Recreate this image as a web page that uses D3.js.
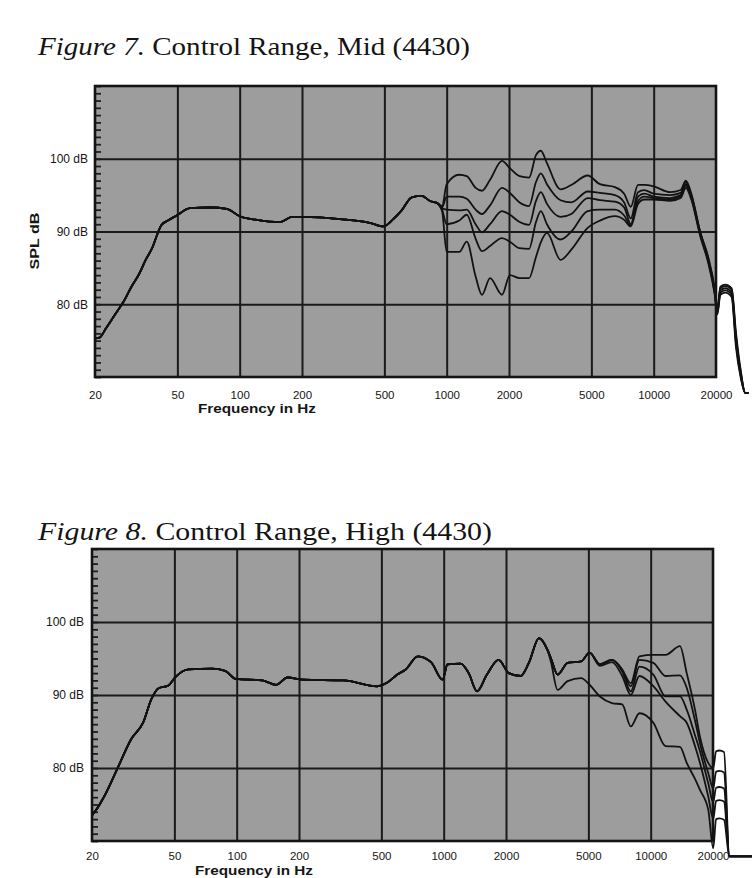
<!DOCTYPE html>
<html>
<head>
  <meta charset="UTF-8">
  <style>
    body {
      margin: 0;
      background: #ffffff;
    }
    svg {
      display: block;
    }
    .title {
      font-family: "Liberation Serif", "Times New Roman", serif;
      font-size: 25px;
      fill: #141414;
    }
    .lbl {
      font-family: "Liberation Sans", Arial, sans-serif;
      fill: #161616;
    }
  </style>
</head>
<body>
  <svg width="752" height="878"></svg>
  <script src="https://d3js.org/d3.v7.min.js"></script>

  <script>
    // ---- Figure 7 : mid control range ----
    // below ~900 Hz all settings lie on one trace
    let midLowFreq = [20, 21, 22.6, 25, 27.4, 30, 33, 35, 37.6, 41.9, 45, 49.6, 57.5, 72, 86.7, 100, 121, 157, 179, 203, 305, 424, 493, 552, 606, 678, 759, 830, 900];
    let midLowDb   = [75.3, 75.4, 76.7, 78.6, 80.3, 82.4, 84.4, 86.0, 87.6, 90.9, 91.5, 92.2, 93.2, 93.3, 93.1, 92.1, 91.6, 91.3, 92.0, 92.0, 91.7, 91.2, 90.7, 91.7, 92.9, 94.7, 94.9, 94.2, 93.9];

    let midHiFreq = [950, 1000, 1150, 1250, 1380, 1480, 1620, 1850, 2020, 2250, 2500, 2700, 2850, 3050, 3550, 4000, 4800, 5500, 6500, 7200, 7750, 8400, 9000, 10000, 12000, 13500, 14300, 15200, 16800, 18300, 19700, 20300, 21000, 22200, 23800, 25000, 26300, 27700, 28700];
    let midBoostMax = [93.5, 96.5, 97.8, 97.6, 96.0, 95.6, 97.1, 99.7, 98.7, 97.6, 97.4, 100.5, 101.1, 99.4, 95.8, 96.4, 97.7, 96.5, 96.1, 95.2, 93.4, 96.4, 96.4, 96.2, 95.4, 95.7, 97.0, 95.2, 89.9, 86.6, 82.2, 79.4, 82.4, 82.7, 82.2, 76.0, 71.0, 67.8, 67.8];
    let midBoost    = [93.3, 94.8, 94.8, 94.5, 93.0, 92.4, 93.6, 96.0, 95.3, 94.0, 93.5, 96.8, 98.0, 96.5, 94.3, 94.0, 95.5, 95.3, 95.0, 94.0, 91.8, 95.4, 95.7, 95.2, 95.0, 95.3, 96.8, 95.0, 89.8, 86.4, 82.0, 79.2, 82.2, 82.5, 82.0, 75.5, 70.8, 67.8, 67.8];
    let midFlat     = [93.2, 93.0, 92.9, 93.0, 91.0, 89.9, 91.0, 92.8, 92.3, 91.3, 90.9, 94.2, 95.4, 93.8, 92.0, 92.4, 94.6, 94.3, 94.1, 93.3, 91.0, 94.8, 95.2, 94.8, 94.6, 95.0, 96.5, 94.8, 89.7, 86.2, 81.8, 79.0, 81.9, 82.2, 81.6, 75.0, 70.5, 67.8, 67.8];
    let midCut      = [93.0, 91.0, 91.5, 92.3, 89.0, 87.3, 88.0, 89.1, 88.6, 87.7, 87.6, 91.3, 92.8, 91.0, 88.9, 90.0, 92.8, 93.0, 93.0, 92.2, 90.8, 94.2, 94.8, 94.6, 94.4, 94.8, 96.3, 94.6, 89.5, 86.0, 81.6, 78.8, 81.6, 81.9, 81.3, 74.5, 70.2, 67.8, 67.8];
    let midCutMax   = [92.8, 87.2, 87.2, 88.6, 83.8, 81.3, 83.6, 81.3, 84.0, 83.6, 83.6, 86.5, 88.5, 89.8, 86.1, 87.5, 90.5, 91.5, 92.1, 91.6, 90.7, 93.8, 94.4, 94.4, 94.2, 94.6, 96.0, 94.4, 89.3, 85.8, 81.4, 78.6, 81.3, 81.6, 81.0, 74.0, 70.0, 67.8, 67.8];

    // ---- Figure 8 : high control range ----
    let highLowFreq = [20, 21, 23, 26.7, 31, 35.3, 38.8, 41.8, 46.8, 50.4, 58.5, 76, 88, 99, 133, 155, 176, 209, 329, 477, 534, 597, 655, 750, 869, 988, 1043, 1207, 1321, 1449, 1618, 1842, 2063, 2350, 2578, 2886, 3170];
    let highLowDb   = [73.5, 74.3, 76.2, 80.1, 84.0, 86.2, 89.5, 90.9, 91.3, 92.4, 93.5, 93.6, 93.3, 92.2, 92.0, 91.4, 92.4, 92.1, 92.0, 91.2, 91.7, 92.8, 93.5, 95.3, 94.5, 92.1, 94.2, 94.3, 93.0, 90.5, 92.8, 94.8, 93.0, 92.6, 94.4, 97.8, 96.2];

    let highHiFreq = [3300, 3550, 3970, 4613, 5066, 5683, 6498, 7286, 8013, 8820, 10300, 11800, 13850, 14930, 16370, 17300, 18970, 20050, 20700, 21500, 22600, 24000, 31000];
    let highBoostMax = [95.0, 92.8, 94.4, 94.6, 95.8, 94.2, 94.8, 93.5, 91.6, 95.3, 95.5, 95.5, 96.7, 93.0, 88.0, 84.3, 80.7, 80.0, 82.3, 82.4, 82.2, 67.9, 67.9];
    let highBoost    = [95.0, 92.8, 94.4, 94.6, 95.8, 94.2, 94.8, 93.4, 91.2, 94.8, 94.4, 92.6, 92.7, 91.0, 86.5, 83.4, 79.3, 77.2, 79.5, 79.6, 79.4, 67.9, 67.9];
    let highFlat     = [95.0, 92.8, 94.4, 94.6, 95.8, 94.2, 94.8, 93.2, 90.5, 93.9, 92.8, 89.8, 89.8, 88.0, 84.5, 82.3, 77.9, 75.3, 77.3, 77.4, 77.2, 67.9, 67.9];
    let highCut      = [95.0, 92.8, 94.4, 94.6, 95.8, 94.0, 94.5, 92.6, 90.0, 92.6, 91.2, 89.1, 87.1, 86.2, 83.0, 80.7, 76.1, 73.0, 75.5, 75.6, 75.4, 67.9, 67.9];
    let highCutMax   = [94.5, 90.7, 91.9, 92.3, 91.4, 89.8, 88.9, 88.7, 85.7, 87.5, 86.2, 83.0, 82.9, 80.7, 78.5, 77.0, 74.3, 69.0, 73.0, 73.1, 72.9, 67.9, 67.9];

    let xTickLabels = [20, 50, 100, 200, 500, 1000, 2000, 5000, 10000, 20000];
    let gridFreq = [50, 100, 200, 500, 1000, 2000, 5000, 10000];
    let dbTicks = [80, 90, 100];

    let svg = d3.select("svg");

    function toPoints(freq, db) {
      return freq.map((f, i) => ({ f: f, db: db[i] }));
    }

    function drawChart(o) {
      let x = d3.scaleLog().domain([20, 20000]).range([o.left, o.left + o.width]);
      let y = d3.scaleLinear().domain([70, 110]).range([o.top + o.height, o.top]);
      let bottom = o.top + o.height;

      // title
      let t = svg.append("text")
          .attr("class", "title")
          .attr("x", 38)
          .attr("y", o.titleY)
          .attr("textLength", o.titleLen)
          .attr("lengthAdjust", "spacingAndGlyphs");
      t.append("tspan").style("font-style", "italic").text(o.figure);
      t.append("tspan").text(o.caption);

      let g = svg.append("g");

      g.append("rect")
          .attr("x", o.left).attr("y", o.top)
          .attr("width", o.width).attr("height", o.height)
          .attr("fill", "#9d9d9d");

      // vertical grid
      g.append("g")
          .attr("transform", `translate(0,${bottom})`)
          .call(d3.axisBottom(x).tickValues(gridFreq).tickSize(-o.height).tickFormat(""))
          .call(a => a.select(".domain").remove())
          .selectAll("line").attr("stroke", "#1a1a1a").attr("stroke-width", 2);

      // horizontal grid
      g.append("g")
          .attr("transform", `translate(${o.left},0)`)
          .call(d3.axisLeft(y).tickValues(dbTicks).tickSize(-o.width).tickFormat(""))
          .call(a => a.select(".domain").remove())
          .selectAll("line").attr("stroke", "#1a1a1a").attr("stroke-width", 2.2);

      // 1 dB marks on the left edge
      g.append("g")
          .attr("transform", `translate(${o.left},0)`)
          .call(d3.axisRight(y).ticks(40).tickSize(6).tickFormat(""))
          .call(a => a.select(".domain").remove())
          .selectAll("line").attr("stroke", "#1e1e1e").attr("stroke-width", 1.8);

      // response curves (they run past the frame on the right, as in the print)
      let line = d3.line()
          .x(d => x(d.f))
          .y(d => y(d.db))
          .curve(d3.curveMonotoneX);

      o.curves.forEach(c => {
        g.append("path")
            .attr("d", line(c))
            .attr("fill", "none")
            .attr("stroke", "#121212")
            .attr("stroke-width", 1.8)
            .attr("stroke-linejoin", "round");
      });

      // frame
      g.append("rect")
          .attr("x", o.left).attr("y", o.top)
          .attr("width", o.width).attr("height", o.height)
          .attr("fill", "none")
          .attr("stroke", "#141414")
          .attr("stroke-width", 2.6);

      // frequency labels
      let xa = svg.append("g")
          .attr("transform", `translate(0,${bottom})`)
          .call(d3.axisBottom(x).tickValues(xTickLabels).tickSize(0).tickPadding(o.xPad).tickFormat(d3.format("d")));
      xa.select(".domain").remove();
      xa.selectAll("text")
          .attr("class", "lbl")
          .style("font-size", "11.5px")
          .style("font-family", "'Liberation Sans', Arial, sans-serif");

      // dB labels
      let ya = svg.append("g")
          .attr("transform", `translate(${o.left},0)`)
          .call(d3.axisLeft(y).tickValues(dbTicks).tickSize(0).tickPadding(o.dbPad).tickFormat(d => d + " dB"));
      ya.select(".domain").remove();
      ya.selectAll("text")
          .attr("class", "lbl")
          .style("font-size", "12px")
          .style("font-family", "'Liberation Sans', Arial, sans-serif");

      svg.append("text")
          .attr("class", "lbl")
          .attr("x", o.left + 103)
          .attr("y", bottom + o.freqGap)
          .attr("textLength", 118)
          .attr("lengthAdjust", "spacingAndGlyphs")
          .style("font-size", "12px")
          .style("font-weight", "bold")
          .text("Frequency in Hz");

      if (o.yTitle) {
        svg.append("text")
            .attr("class", "lbl")
            .attr("transform", `translate(39,${o.top + 155}) rotate(-90)`)
            .attr("text-anchor", "middle")
            .attr("textLength", 57)
            .attr("lengthAdjust", "spacingAndGlyphs")
            .style("font-size", "13px")
            .style("font-weight", "bold")
            .text(o.yTitle);
      }
    }

    let midLow = toPoints(midLowFreq, midLowDb);
    let highLow = toPoints(highLowFreq, highLowDb);

    drawChart({
      left: 95, top: 86, width: 621, height: 291,
      titleY: 55, titleLen: 432,
      figure: "Figure 7.", caption: " Control Range, Mid (4430)",
      dbPad: 7, xPad: 14, yTitle: "SPL dB", freqGap: 36,
      curves: [midBoostMax, midBoost, midFlat, midCut, midCutMax].map(s => midLow.concat(toPoints(midHiFreq, s)))
    });

    drawChart({
      left: 92, top: 549, width: 621, height: 292,
      titleY: 540, titleLen: 454,
      figure: "Figure 8.", caption: " Control Range, High (4430)",
      dbPad: 8, xPad: 11, yTitle: null, freqGap: 34,
      curves: [highBoostMax, highBoost, highFlat, highCut, highCutMax].map(s => highLow.concat(toPoints(highHiFreq, s)))
    });
  </script>
</body>
</html>
